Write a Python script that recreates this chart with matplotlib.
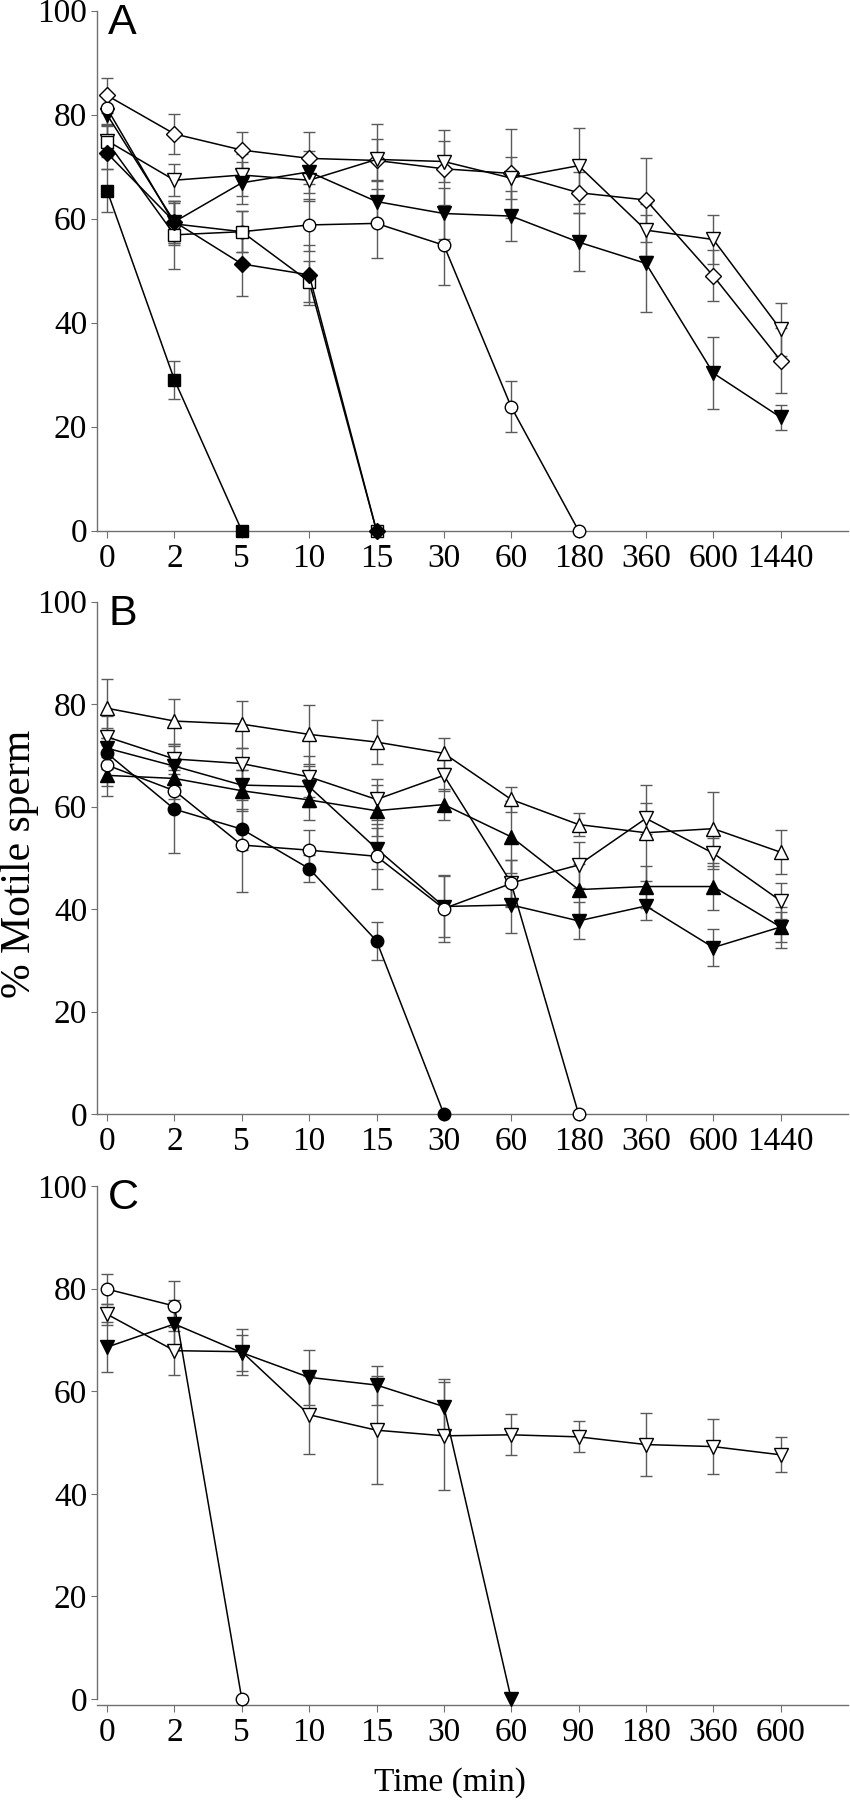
import numpy as np
import matplotlib
matplotlib.use("Agg")
import matplotlib.pyplot as plt

plt.rcParams['font.family'] = ['Liberation Serif', 'DejaVu Serif']

## x tick labels (time in min, categorical)
ab_times = ['0', '2', '5', '10', '15', '30', '60', '180', '360', '600', '1440']
c_times = ['0', '2', '5', '10', '15', '30', '60', '90', '180', '360', '600']

##---------------------------------------------------------------------
## PANEL A
##---------------------------------------------------------------------
a_open_diamond = [83.7, 76.3, 73.2, 71.6, 71.2, 69.6, 68.7, 65.0, 63.6, 49.0, 32.7]
a_open_diamond_err = [3.3, 3.8, 3.5, 5.0, 7.0, 7.5, 8.5, 4.0, 8.1, 4.9, 6.3]
a_open_vtri = [75.0, 67.4, 68.4, 67.4, 71.4, 71.0, 67.8, 70.2, 57.8, 56.0, 38.7]
a_open_vtri_err = [3.0, 3.1, 4.0, 4.0, 4.0, 4.0, 4.0, 7.3, 5.0, 4.8, 5.1]
a_fill_vtri = [80.0, 59.4, 66.9, 69.0, 63.3, 61.0, 60.5, 55.5, 51.4, 30.3, 21.8]
a_fill_vtri_err = [4.0, 4.0, 4.0, 4.0, 4.0, 5.0, 4.8, 5.5, 9.4, 6.9, 2.4]
a_open_circle = [81.2, 59.0, 57.5, 58.8, 59.1, 54.9, 23.8, 0]
a_open_circle_err = [3.0, 4.0, 4.0, 5.0, 6.7, 7.7, 4.9, None]
a_open_square = [74.8, 56.9, 57.5, 47.9, 0]
a_open_square_err = [3.0, 6.6, 4.0, 3.9, None]
a_fill_diamond = [72.6, 59.4, 51.3, 49.2, 0]
a_fill_diamond_err = [3.0, 4.0, 6.1, 5.8, None]
a_fill_square = [65.4, 29.0, 0]
a_fill_square_err = [4.2, 3.7, None]

##---------------------------------------------------------------------
## PANEL B
##---------------------------------------------------------------------
b_open_tri = [79.2, 76.7, 76.1, 74.1, 72.6, 70.4, 61.4, 56.5, 54.9, 55.7, 51.1]
b_open_tri_err = [5.8, 4.4, 4.6, 5.8, 4.3, 2.9, 2.5, 2.2, 9.4, 7.2, 4.3]
b_open_vtri = [73.6, 69.3, 68.4, 65.8, 61.4, 66.1, 45.1, 48.6, 57.7, 50.9, 41.6]
b_open_vtri_err = [4.0, 3.0, 3.0, 4.0, 4.0, 3.0, 4.5, 4.5, 3.0, 3.0, 3.5]
b_fill_vtri = [71.4, 67.9, 64.2, 63.9, 51.8, 40.5, 40.8, 37.7, 40.6, 32.5, 36.5]
b_fill_vtri_err = [4.0, 4.0, 3.0, 4.0, 4.0, 5.9, 5.5, 3.6, 2.7, 3.7, 4.0]
b_fill_tri = [66.1, 65.5, 63.1, 61.3, 59.2, 60.4, 54.1, 43.8, 44.4, 44.4, 36.5]
b_fill_tri_err = [4.0, 4.0, 4.0, 4.0, 5.0, 3.0, 7.0, 5.0, 4.1, 4.5, 3.0]
b_open_circle = [68.1, 63.1, 52.5, 51.5, 50.3, 40.1, 45.0, 0]
b_open_circle_err = [4.0, 4.0, 9.1, 4.0, 6.3, 6.5, 4.5, None]
b_fill_circle = [70.4, 59.5, 55.6, 47.9, 33.8, 0]
b_fill_circle_err = [3.0, 8.5, 4.0, 2.6, 3.7, None]

##---------------------------------------------------------------------
## PANEL C
##---------------------------------------------------------------------
c_open_circle = [79.9, 76.6, 0]
c_open_circle_err = [2.9, 4.9, None]
c_open_vtri = [75.0, 67.9, 67.7, 55.4, 52.4, 51.3, 51.5, 51.1, 49.6, 49.2, 47.6]
c_open_vtri_err = [2.0, 4.7, 4.5, 7.6, 10.5, 10.5, 4.0, 3.0, 6.1, 5.3, 3.4]
c_fill_vtri = [68.6, 73.1, 67.5, 62.7, 61.2, 57.0, 0]
c_fill_vtri_err = [4.8, 4.7, 3.5, 5.3, 3.8, 5.4, None]

SPINE = '#707070'
ERR = '#5a5a5a'


def draw_series(ax, vals, errs, marker, filled, ms=9):
    x = np.arange(len(vals))
    y = np.array(vals, dtype=float)
    e = np.array([np.nan if v is None else v for v in errs], dtype=float)
    ax.errorbar(x, y, yerr=e, fmt='none', ecolor=ERR, elinewidth=1.0,
                capsize=4, capthick=1.0, zorder=2, clip_on=False)
    ax.plot(x, y, color='black', lw=1.1, marker=marker, ms=ms,
            mfc='black' if filled else 'white', mec='black', mew=1.0,
            zorder=3, clip_on=False)


def style_axes(ax, labels, letter, bottom_offset=0):
    ax.set_xlim(-0.15, 11.0)
    ax.set_ylim(0, 100)
    ax.set_xticks(range(len(labels)))
    ax.set_xticklabels(labels)
    ax.set_yticks([0, 20, 40, 60, 80, 100])
    for s in ['top', 'right']:
        ax.spines[s].set_visible(False)
    for s in ['left', 'bottom']:
        ax.spines[s].set_color(SPINE)
        ax.spines[s].set_linewidth(1.0)
    if bottom_offset:
        ax.spines['bottom'].set_position(('outward', bottom_offset))
    ax.tick_params(axis='both', direction='out', color=SPINE, labelsize=24)
    ax.tick_params(axis='x', length=5, pad=4)
    ax.tick_params(axis='y', length=4, pad=3)
    ax.text(0.015, 1.015, letter, transform=ax.transAxes, ha='left', va='top',
            fontsize=31, family=['Liberation Sans', 'DejaVu Sans'])


fig = plt.figure(figsize=(8.5, 18), dpi=100)
left = 97 / 850
width = 751 / 850
ax1 = fig.add_axes([left, 1 - 530.7 / 1800, width, 520 / 1800])
ax2 = fig.add_axes([left, 1 - 1114 / 1800, width, 512.3 / 1800])
ax3 = fig.add_axes([left, 1 - 1699 / 1800, width, 513 / 1800])

## A SUBPLOT
draw_series(ax1, a_open_diamond, a_open_diamond_err, 'D', False, ms=8)
draw_series(ax1, a_open_vtri, a_open_vtri_err, 'v', False, ms=10)
draw_series(ax1, a_fill_vtri, a_fill_vtri_err, 'v', True, ms=10)
draw_series(ax1, a_open_circle, a_open_circle_err, 'o', False)
draw_series(ax1, a_open_square, a_open_square_err, 's', False, ms=8)
draw_series(ax1, a_fill_diamond, a_fill_diamond_err, 'D', True, ms=8)
draw_series(ax1, a_fill_square, a_fill_square_err, 's', True, ms=8)
style_axes(ax1, ab_times, 'A')

## B SUBPLOT
draw_series(ax2, b_open_tri, b_open_tri_err, '^', False, ms=10)
draw_series(ax2, b_open_vtri, b_open_vtri_err, 'v', False, ms=10)
draw_series(ax2, b_fill_tri, b_fill_tri_err, '^', True, ms=10)
draw_series(ax2, b_fill_vtri, b_fill_vtri_err, 'v', True, ms=10)
draw_series(ax2, b_open_circle, b_open_circle_err, 'o', False)
draw_series(ax2, b_fill_circle, b_fill_circle_err, 'o', True)
style_axes(ax2, ab_times, 'B')

## C SUBPLOT
draw_series(ax3, c_open_vtri, c_open_vtri_err, 'v', False, ms=10)
draw_series(ax3, c_fill_vtri, c_fill_vtri_err, 'v', True, ms=10)
draw_series(ax3, c_open_circle, c_open_circle_err, 'o', False)
style_axes(ax3, c_times, 'C', bottom_offset=4)

fig.text(20 / 850, 1 - 864 / 1800, '% Motile sperm', rotation=90,
         ha='center', va='center', fontsize=30)
fig.text(450 / 850, 1 - 1783 / 1800, 'Time (min)', ha='center', va='center',
         fontsize=24)

fig.savefig('out.png', dpi=100)
